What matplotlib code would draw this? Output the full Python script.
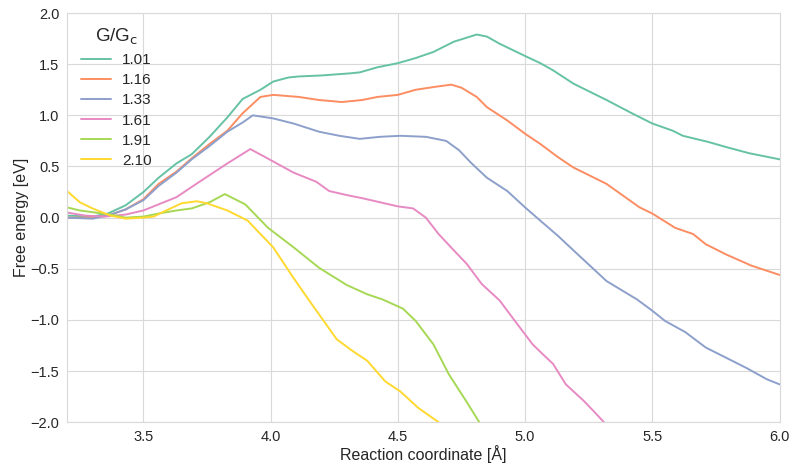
import matplotlib
matplotlib.use("Agg")
import matplotlib.pyplot as plt
import seaborn as sns

# G/Gc values (legend labels)
labels = ["1.01", "1.16", "1.33", "1.61", "1.91", "2.10"]

x_101 = [3.2, 3.3, 3.36, 3.43, 3.5, 3.56, 3.63, 3.69, 3.76, 3.83, 3.89, 3.96, 4.01, 4.07,
         4.11, 4.2, 4.31, 4.35, 4.42, 4.5, 4.57, 4.64, 4.72, 4.81, 4.85, 4.9, 5.0, 5.06,
         5.11, 5.19, 5.32, 5.42, 5.5, 5.58, 5.62, 5.72, 5.79, 5.88, 6.0]
y_101 = [0.02, 0.01, 0.04, 0.12, 0.25, 0.39, 0.53, 0.62, 0.79, 0.98, 1.16, 1.25, 1.33, 1.37,
         1.38, 1.39, 1.41, 1.42, 1.47, 1.51, 1.56, 1.62, 1.72, 1.79, 1.77, 1.70, 1.58, 1.51,
         1.44, 1.31, 1.15, 1.02, 0.92, 0.85, 0.80, 0.74, 0.69, 0.63, 0.57]

x_116 = [3.2, 3.3, 3.36, 3.43, 3.5, 3.56, 3.63, 3.69, 3.76, 3.83, 3.89, 3.96, 4.01, 4.11,
         4.19, 4.28, 4.36, 4.42, 4.5, 4.57, 4.65, 4.71, 4.75, 4.81, 4.85, 4.93, 5.0, 5.06,
         5.13, 5.19, 5.32, 5.45, 5.5, 5.59, 5.66, 5.71, 5.79, 5.89, 6.0]
y_116 = [0.0, 0.0, 0.02, 0.08, 0.18, 0.33, 0.45, 0.58, 0.72, 0.85, 1.02, 1.18, 1.20, 1.18,
         1.15, 1.13, 1.15, 1.18, 1.20, 1.25, 1.28, 1.30, 1.27, 1.18, 1.08, 0.95, 0.82, 0.72,
         0.59, 0.49, 0.33, 0.10, 0.04, -0.10, -0.16, -0.26, -0.36, -0.47, -0.56]

x_133 = [3.2, 3.3, 3.36, 3.43, 3.5, 3.56, 3.63, 3.69, 3.76, 3.83, 3.89, 3.93, 4.01, 4.09,
         4.19, 4.27, 4.35, 4.43, 4.51, 4.61, 4.69, 4.74, 4.79, 4.85, 4.93, 5.0, 5.06, 5.13,
         5.19, 5.32, 5.44, 5.5, 5.55, 5.63, 5.71, 5.79, 5.87, 5.95, 6.0]
y_133 = [0.0, -0.01, 0.02, 0.08, 0.17, 0.31, 0.44, 0.57, 0.70, 0.84, 0.93, 1.00, 0.97, 0.92,
         0.84, 0.80, 0.77, 0.79, 0.80, 0.79, 0.75, 0.66, 0.53, 0.39, 0.26, 0.10, -0.03, -0.18,
         -0.32, -0.62, -0.80, -0.91, -1.01, -1.12, -1.27, -1.37, -1.47, -1.58, -1.63]

x_161 = [3.2, 3.27, 3.35, 3.43, 3.5, 3.56, 3.63, 3.72, 3.83, 3.92, 3.98, 4.09, 4.18, 4.23,
         4.3, 4.36, 4.43, 4.5, 4.56, 4.61, 4.66, 4.72, 4.77, 4.83, 4.9, 4.96, 5.03, 5.08,
         5.11, 5.16, 5.23, 5.28, 5.31]
y_161 = [0.05, 0.02, 0.01, 0.03, 0.07, 0.13, 0.20, 0.35, 0.53, 0.67, 0.59, 0.44, 0.35, 0.26,
         0.22, 0.19, 0.15, 0.11, 0.09, 0.0, -0.16, -0.32, -0.45, -0.65, -0.81, -1.01, -1.24, -1.36,
         -1.43, -1.63, -1.79, -1.92, -2.0]

x_191 = [3.2, 3.25, 3.37, 3.43, 3.5, 3.56, 3.63, 3.69, 3.76, 3.82, 3.9, 3.99, 4.09, 4.19,
         4.3, 4.38, 4.44, 4.52, 4.57, 4.64, 4.7, 4.77, 4.82]
y_191 = [0.10, 0.07, 0.03, 0.0, 0.01, 0.04, 0.07, 0.09, 0.15, 0.23, 0.13, -0.10, -0.29, -0.49,
         -0.66, -0.75, -0.80, -0.89, -1.01, -1.24, -1.53, -1.80, -2.0]

x_210 = [3.2, 3.25, 3.3, 3.37, 3.43, 3.5, 3.54, 3.59, 3.65, 3.71, 3.75, 3.83, 3.91, 3.96,
         4.01, 4.09, 4.16, 4.26, 4.32, 4.38, 4.45, 4.51, 4.58, 4.66]
y_210 = [0.26, 0.15, 0.09, 0.02, -0.01, 0.0, 0.01, 0.07, 0.14, 0.16, 0.14, 0.07, -0.03, -0.16,
         -0.29, -0.59, -0.84, -1.19, -1.30, -1.40, -1.60, -1.70, -1.86, -2.0]

xs = [x_101, x_116, x_133, x_161, x_191, x_210]
ys = [y_101, y_116, y_133, y_161, y_191, y_210]

sns.set_style("whitegrid", {"grid.color": "0.85", "axes.edgecolor": "0.85"})
plt.rcParams['font.family'] = ['Liberation Sans', 'DejaVu Sans']
colors = sns.color_palette("Set2", 6)

fig, ax = plt.subplots(figsize=(7.89, 4.66), dpi=100)
fig.subplots_adjust(left=0.085, right=0.988, top=0.972, bottom=0.094)

for x, y, lab, c in zip(xs, ys, labels, colors):
    ax.plot(x, y, color=c, lw=1.4, label=lab)

ax.set_xlim(3.2, 6.0)
ax.set_ylim(-2.0, 2.0)
ax.set_xticks([3.5, 4.0, 4.5, 5.0, 5.5, 6.0])
ax.set_yticks([-2.0, -1.5, -1.0, -0.5, 0.0, 0.5, 1.0, 1.5, 2.0])
ax.tick_params(labelsize=10.5, colors='#262626', pad=2)
ax.set_xlabel("Reaction coordinate [Å]", fontsize=11.5, labelpad=1)
ax.set_ylabel("Free energy [eV]", fontsize=11.5, labelpad=1)

leg = ax.legend(title="G/G$_\\mathrm{c}$", loc="upper left", fontsize=11, frameon=False,
                title_fontsize=13.5, borderaxespad=0.5, handlelength=2.0,
                handletextpad=0.7, labelspacing=0.4)

fig.savefig("out.png", dpi=100)
